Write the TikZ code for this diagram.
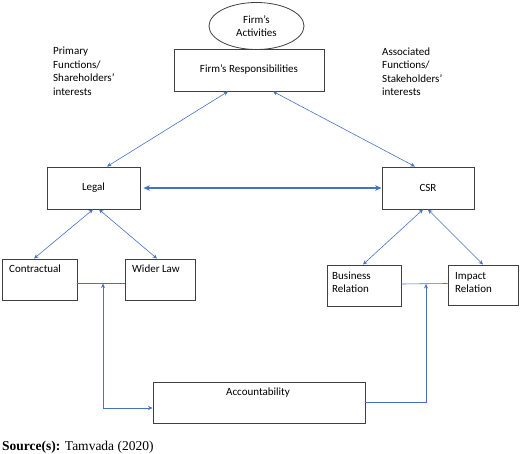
\documentclass[tikz,border=0pt]{standalone}
\usepackage{fontspec}
\setmainfont{Carlito}
\newfontfamily\srcfont{Liberation Serif}
\usetikzlibrary{arrows.meta,shapes.geometric}
\definecolor{lineblue}{HTML}{4472C4}
\definecolor{boxgray}{HTML}{404040}
\begin{document}
\begin{tikzpicture}[x=1pt,y=-1pt,
  every node/.style={font=\fontsize{11}{13.5}\selectfont, text=black},
  box/.style={draw=boxgray, line width=0.9pt, rectangle, inner sep=0pt, fill=white},
  lbl/.style={inner sep=0pt, align=left},
  conn/.style={draw=lineblue, line width=0.6pt},
  thickconn/.style={draw=lineblue, line width=1.4pt},
  >={Stealth[length=4.5pt,width=4pt]}
]
\useasboundingbox (0,0) rectangle (520,454);

% top
\node[draw=boxgray, line width=0.8pt, ellipse, minimum width=95pt, minimum height=47pt, inner sep=0pt, align=center] (act) at (256.5,26) {Firm’s\\Activities};
\node[box, minimum width=150pt, minimum height=42pt] (resp) at (249,70) {Firm’s Responsibilities};

\node[lbl, anchor=west] (prim) at (53,71.5) {Primary\\Functions/\\Shareholders’\\interests};
\node[lbl, anchor=west] (assoc) at (382,71.5) {Associated\\Functions/\\Stakeholders’\\interests};

% middle
\node[box, minimum width=93pt, minimum height=42pt] (legal) at (93.5,188) {Legal};
\node[box, minimum width=92pt, minimum height=42pt] (csr) at (428,188) {CSR};

% lower boxes
\node[box, minimum width=75pt, minimum height=41pt] (contr) at (39.5,279.5) {};
\node[lbl, anchor=west] (contrt) at (9,269) {Contractual};
\node[box, minimum width=70pt, minimum height=41pt] (wl) at (160,279.5) {};
\node[lbl, anchor=west] (wlt) at (132,269) {Wider Law};
\node[box, minimum width=74pt, minimum height=41pt] (bus) at (364,285.5) {};
\node[lbl, anchor=west] (bust) at (332,282.5) {Business\\Relation};
\node[box, minimum width=70pt, minimum height=40pt] (imp) at (483,285) {};
\node[lbl, anchor=west] (impt) at (455,282.5) {Impact\\Relation};
\node[box, minimum width=212pt, minimum height=41pt] (acc) at (259,402.5) {};
\node[lbl] (acct) at (258,393) {Accountability};

% source
\node[anchor=base west, inner sep=0pt, font=\srcfont\fontsize{13.5}{16}\selectfont, text=black] (src) at (2,450.5) {\textbf{Source(s):} Tamvada (2020)};

% connectors
\draw[conn,<->] ([xshift=-21pt]resp.south) -- ([xshift=13.5pt]legal.north);
\draw[conn,<->] ([xshift=24pt]resp.south) -- ([xshift=-13pt]csr.north);
\draw[thickconn,<->,>={Stealth[length=6.5pt,width=5.5pt]}, shorten <=3pt] (legal.east) -- (csr.west);
\draw[conn,<->] ([xshift=-0.5pt]legal.south) -- ([xshift=-5.5pt]contr.north);
\draw[conn,<->] ([xshift=5.5pt]legal.south) -- ([xshift=-3pt]wl.north);
\draw[conn,<->] ([xshift=-5pt]csr.south) -- ([xshift=-1pt]bus.north);
\draw[conn,<->] (csr.south) -- (imp.north);

\draw[conn] ([yshift=-3.5pt]contr.east) -- ([yshift=-3.5pt]wl.west);
\coordinate (lj) at (103,283.5);
\draw[conn,<->] (lj) |- ([yshift=-5.5pt]acc.west);

\draw[conn] ([yshift=1.5pt]bus.east) -- ([yshift=1.5pt]imp.west);
\coordinate (rj) at (426,284);
\draw[conn,->] (acc.east) -| (rj);
\end{tikzpicture}
\end{document}
